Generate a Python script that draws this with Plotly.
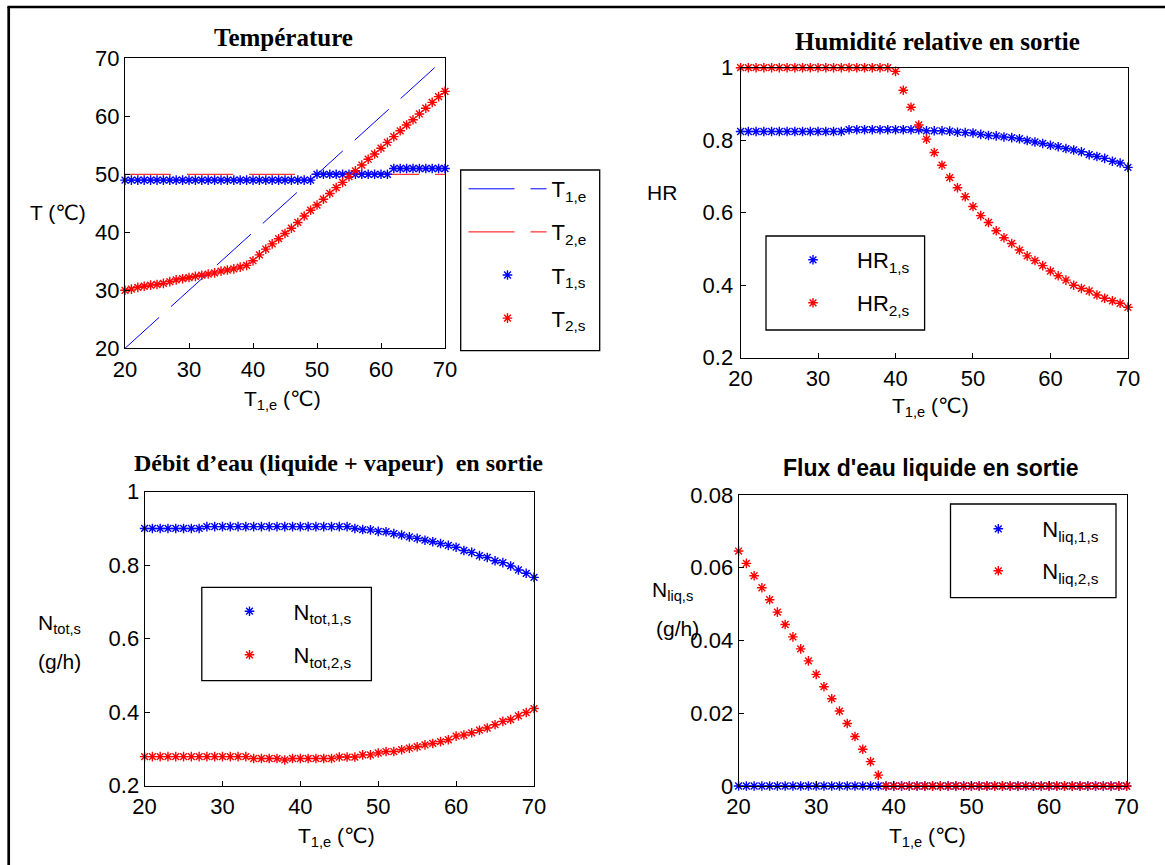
import plotly.graph_objects as go

W, H = 1165, 865

# ---------------- data ----------------
t1e = [20, 21, 22, 23, 24, 25, 26, 27, 28, 29, 30, 31, 32, 33, 34, 35, 36, 37, 38, 39, 40,
       41, 42, 43, 44, 45, 46, 47, 48, 49, 50, 51, 52, 53, 54, 55, 56, 57, 58, 59, 60,
       61, 62, 63, 64, 65, 66, 67, 68, 69, 70]

t2e = [50, 50, 50, 50, 50, 50, 50, 50, 50, 50, 50, 50, 50, 50, 50, 50, 50, 50, 50, 50, 50,
       50, 50, 50, 50, 50, 50, 50, 50, 50, 50, 50, 50, 50, 50, 50, 50, 50, 50, 50, 50,
       50, 50, 50, 50, 50, 50, 50, 50, 50, 50]

t1s = [49, 49, 49, 49, 49, 49, 49, 49, 49, 49, 49, 49, 49, 49, 49, 49, 49, 49, 49, 49,
       49, 49, 49, 49, 49, 49, 49, 49, 49, 49,
       50, 50, 50, 50, 50, 50, 50, 50, 50, 50, 50, 50,
       51, 51, 51, 51, 51, 51, 51, 51, 51]

t2s = [30.0, 30.2, 30.5, 30.7, 30.9, 31.0, 31.2, 31.5, 31.8, 32.0, 32.2, 32.4, 32.6, 32.8,
       33.0, 33.3, 33.5, 33.7, 34.0, 34.3, 35.1, 36.1, 37.1, 38.0, 38.9, 39.8, 40.7, 41.7,
       42.8, 43.8, 44.7, 45.7, 46.7, 47.7, 48.6, 49.6, 50.6, 51.6, 52.6, 53.5, 54.5, 55.5,
       56.5, 57.5, 58.5, 59.4, 60.4, 61.4, 62.4, 63.4, 64.3]

hr1s = [0.824, 0.824, 0.824, 0.824, 0.824, 0.824, 0.824, 0.824, 0.824, 0.824, 0.824, 0.824,
        0.824, 0.824, 0.829, 0.829, 0.829, 0.829, 0.829, 0.829, 0.829, 0.829, 0.829, 0.829,
        0.826, 0.826, 0.826, 0.825, 0.822, 0.821, 0.820, 0.816, 0.813, 0.812, 0.809, 0.807,
        0.804, 0.799, 0.795, 0.791, 0.786, 0.782, 0.777, 0.773, 0.768, 0.760, 0.755, 0.750,
        0.742, 0.737, 0.725]

hr2s = [1.0, 1.0, 1.0, 1.0, 1.0, 1.0, 1.0, 1.0, 1.0, 1.0, 1.0, 1.0, 1.0, 1.0, 1.0, 1.0,
        1.0, 1.0, 1.0, 1.0, 0.990, 0.938, 0.891, 0.842, 0.803, 0.766, 0.731, 0.697, 0.669,
        0.644, 0.617, 0.592, 0.573, 0.550, 0.531, 0.515, 0.497, 0.481, 0.468, 0.454, 0.439,
        0.426, 0.414, 0.400, 0.391, 0.384, 0.373, 0.364, 0.357, 0.350, 0.339]

ntot1s = [0.900, 0.900, 0.900, 0.900, 0.900, 0.900, 0.900, 0.900, 0.905, 0.905, 0.905,
          0.905, 0.905, 0.905, 0.905, 0.905, 0.905, 0.905, 0.905, 0.905, 0.905, 0.905,
          0.905, 0.905, 0.905, 0.905, 0.905, 0.900, 0.897, 0.896, 0.892, 0.891, 0.886,
          0.882, 0.877, 0.873, 0.868, 0.864, 0.859, 0.854, 0.849, 0.840, 0.835, 0.826,
          0.821, 0.812, 0.807, 0.798, 0.787, 0.778, 0.767]

ntot2s = [0.279, 0.279, 0.279, 0.279, 0.279, 0.279, 0.279, 0.279, 0.279, 0.279, 0.279,
          0.279, 0.279, 0.279, 0.274, 0.274, 0.274, 0.274, 0.270, 0.274, 0.274, 0.274,
          0.274, 0.274, 0.274, 0.278, 0.278, 0.278, 0.284, 0.284, 0.289, 0.293, 0.293,
          0.298, 0.302, 0.306, 0.311, 0.315, 0.320, 0.325, 0.335, 0.338, 0.344, 0.351,
          0.357, 0.366, 0.375, 0.380, 0.390, 0.399, 0.410]

nliq1s = [0, 0, 0, 0, 0, 0, 0, 0, 0, 0, 0, 0, 0, 0, 0, 0, 0, 0, 0, 0, 0, 0, 0, 0, 0, 0,
          0, 0, 0, 0, 0, 0, 0, 0, 0, 0, 0, 0, 0, 0, 0, 0, 0, 0, 0, 0, 0, 0, 0, 0, 0]

nliq2s = [0.0646, 0.0612, 0.0578, 0.0545, 0.0512, 0.0478, 0.0444, 0.0410, 0.0377, 0.0344,
          0.0307, 0.0273, 0.0240, 0.0206, 0.0172, 0.0136, 0.0101, 0.0067, 0.0030,
          0, 0, 0, 0, 0, 0, 0, 0, 0, 0, 0, 0, 0, 0, 0, 0, 0, 0, 0, 0, 0, 0, 0, 0, 0, 0,
          0, 0, 0, 0, 0, 0]

titles = ["Température", "Humidité relative en sortie",
          "Débit d’eau (liquide + vapeur)  en sortie", "Flux d'eau liquide en sortie"]

xticks = [20, 30, 40, 50, 60, 70]
xtick_text = ["20", "30", "40", "50", "60", "70"]
t_ticks = [20, 30, 40, 50, 60, 70]
t_tick_text = ["20", "30", "40", "50", "60", "70"]
r_ticks = [0.2, 0.4, 0.6, 0.8, 1.0]
r_tick_text = ["0.2", "0.4", "0.6", "0.8", "1"]
l_ticks = [0, 0.02, 0.04, 0.06, 0.08]
l_tick_text = ["0", "0.02", "0.04", "0.06", "0.08"]

# ---------------- style helpers ----------------
BLUE = "rgb(0,0,255)"
RED = "rgb(255,0,0)"
SANS = "Liberation Sans, Arial, DejaVu Sans"
SERIF = "Liberation Serif, Times New Roman, serif"


def px_x(p):
    return p / W


def px_y(p):
    return 1 - p / H


def star(color):
    return dict(symbol="asterisk-open", size=8, color=color, line=dict(color=color, width=1.4))


fig = go.Figure()

# Top-left: temperature
fig.add_trace(go.Scatter(x=t1e, y=t1e, mode="lines", name="T<sub>1,e</sub>",
                         line=dict(color=BLUE, width=1, dash="46px,16px"),
                         xaxis="x", yaxis="y", legend="legend", legendgroup="a"))
fig.add_trace(go.Scatter(x=t1e, y=t2e, mode="lines", name="T<sub>2,e</sub>",
                         line=dict(color=RED, width=1, dash="46px,16px"),
                         xaxis="x", yaxis="y", legend="legend", legendgroup="b"))
fig.add_trace(go.Scatter(x=t1e, y=t1s, mode="markers", name="T<sub>1,s</sub>",
                         marker=star(BLUE), cliponaxis=False,
                         xaxis="x", yaxis="y", legend="legend", legendgroup="c"))
fig.add_trace(go.Scatter(x=t1e, y=t2s, mode="markers", name="T<sub>2,s</sub>",
                         marker=star(RED), cliponaxis=False,
                         xaxis="x", yaxis="y", legend="legend", legendgroup="d"))

# Top-right: HR
fig.add_trace(go.Scatter(x=t1e, y=hr1s, mode="markers", name="HR<sub>1,s</sub>",
                         marker=star(BLUE), cliponaxis=False,
                         xaxis="x2", yaxis="y2", legend="legend2", legendgroup="e"))
fig.add_trace(go.Scatter(x=t1e, y=hr2s, mode="markers", name="HR<sub>2,s</sub>",
                         marker=star(RED), cliponaxis=False,
                         xaxis="x2", yaxis="y2", legend="legend2", legendgroup="f"))

# Bottom-left: Ntot
fig.add_trace(go.Scatter(x=t1e, y=ntot1s, mode="markers", name="N<sub>tot,1,s</sub>",
                         marker=star(BLUE), cliponaxis=False,
                         xaxis="x3", yaxis="y3", legend="legend3", legendgroup="g"))
fig.add_trace(go.Scatter(x=t1e, y=ntot2s, mode="markers", name="N<sub>tot,2,s</sub>",
                         marker=star(RED), cliponaxis=False,
                         xaxis="x3", yaxis="y3", legend="legend3", legendgroup="h"))

# Bottom-right: Nliq
fig.add_trace(go.Scatter(x=t1e, y=nliq1s, mode="markers", name="N<sub>liq,1,s</sub>",
                         marker=star(BLUE), cliponaxis=False,
                         xaxis="x4", yaxis="y4", legend="legend4", legendgroup="i"))
fig.add_trace(go.Scatter(x=t1e, y=nliq2s, mode="markers", name="N<sub>liq,2,s</sub>",
                         marker=star(RED), cliponaxis=False,
                         xaxis="x4", yaxis="y4", legend="legend4", legendgroup="j"))


def axis(domain, rng, anchor, tickvals, ticktext, standoff=0):
    return dict(domain=domain, range=rng, showline=True, mirror=True, linecolor="black",
                linewidth=1, ticks="inside", ticklen=5, tickcolor="black", tickwidth=1,
                showgrid=False, zeroline=False, anchor=anchor,
                tickmode="array", tickvals=tickvals, ticktext=ticktext,
                ticklabelstandoff=standoff,
                tickfont=dict(family=SANS, size=22, color="black"))


# plot areas (pixel boxes: left, right, top, bottom)
TL = (125, 445, 58.3, 348.3)
TR = (740.6, 1127.9, 67.7, 357.7)
BL = (144.6, 534.0, 491.7, 785.7)
BR = (738.6, 1126.6, 495.0, 786.0)


def xd(b):
    return [px_x(b[0]), px_x(b[1])]


def yd(b):
    return [px_y(b[3]), px_y(b[2])]


layout = dict(
    width=W, height=H, paper_bgcolor="white", plot_bgcolor="white",
    margin=dict(l=0, r=0, t=0, b=0, autoexpand=False), showlegend=True,
    xaxis=axis(xd(TL), [20, 70], "y", xticks, xtick_text, 1),
    yaxis=axis(yd(TL), [20, 70], "x", t_ticks, t_tick_text),
    xaxis2=axis(xd(TR), [20, 70], "y2", xticks, xtick_text, 1),
    yaxis2=axis(yd(TR), [0.2, 1.0], "x2", r_ticks, r_tick_text, 2),
    xaxis3=axis(xd(BL), [20, 70], "y3", xticks, xtick_text, 1),
    yaxis3=axis(yd(BL), [0.2, 1.0], "x3", r_ticks, r_tick_text),
    xaxis4=axis(xd(BR), [20, 70], "y4", xticks, xtick_text, 1),
    yaxis4=axis(yd(BR), [0, 0.08], "x4", l_ticks, l_tick_text),
)


def leg(left_px, top_px, gap):
    return dict(x=px_x(left_px), y=px_y(top_px), xanchor="left", yanchor="top",
                bgcolor="rgba(0,0,0,0)", borderwidth=0, tracegroupgap=gap,
                itemwidth=78, font=dict(family=SANS, size=22, color="black"),
                itemclick=False, itemdoubleclick=False)


layout["legend"] = leg(463.5, 168.0, 11.5)
layout["legend2"] = leg(769, 239.0, 11.4)
layout["legend3"] = leg(205.5, 590.4, 12.0)
layout["legend4"] = leg(954.3, 508.0, 10.4)

fig.update_layout(**layout)

# legend boxes
boxes = [(460.7, 170, 599.7, 350.7), (766, 236, 924.6, 330),
         (201.8, 587.3, 371.4, 680.7), (950.5, 504, 1116, 597.7)]
shapes = []
for (x0, y0, x1, y1) in boxes:
    shapes.append(dict(type="rect", xref="paper", yref="paper", x0=px_x(x0), x1=px_x(x1),
                       y0=px_y(y1), y1=px_y(y0), line=dict(color="black", width=1.3)))
# outer frame (left and top edges)
shapes.append(dict(type="line", xref="paper", yref="paper", x0=px_x(8.7), x1=px_x(8.7),
                   y0=0, y1=px_y(7), line=dict(color="black", width=2.7)))
shapes.append(dict(type="line", xref="paper", yref="paper", x0=px_x(7.4), x1=1,
                   y0=px_y(7), y1=px_y(7), line=dict(color="black", width=2.7)))
fig.update_layout(shapes=shapes)

ann = []


def text(x, y, s, size=21, family=SANS, xanchor="center", bold=False):
    ann.append(dict(x=px_x(x), y=px_y(y), xref="paper", yref="paper",
                    text=("<b>%s</b>" % s) if bold else s,
                    showarrow=False, xanchor=xanchor, yanchor="middle",
                    font=dict(family=family, size=size, color="black")))


# titles
text(283, 37, titles[0], 25, SERIF, bold=True)
text(937.5, 42, titles[1], 25, SERIF, bold=True)
text(132, 463, titles[2], 24, SERIF, xanchor="left", bold=True)
text(930.7, 468, titles[3], 23, SANS, bold=True)

# axis labels
xl = "T<sub>1,e</sub> (℃)"
text(282, 400, xl)
text(930, 407, xl)
text(336, 837, xl)
text(927, 837, xl)
text(58, 213, "T (℃)")
text(662, 192, "HR")
text(59, 624, "N<sub>tot,s</sub>")
text(59, 661, "(g/h)")
text(672, 591, "N<sub>liq,s</sub>")
text(677, 628, "(g/h)")

fig.update_layout(annotations=ann)

fig.write_html(
    "out.html",
    config={"displayModeBar": False},
    post_script="document.body.style.margin='0';document.documentElement.style.overflow='hidden';",
)
